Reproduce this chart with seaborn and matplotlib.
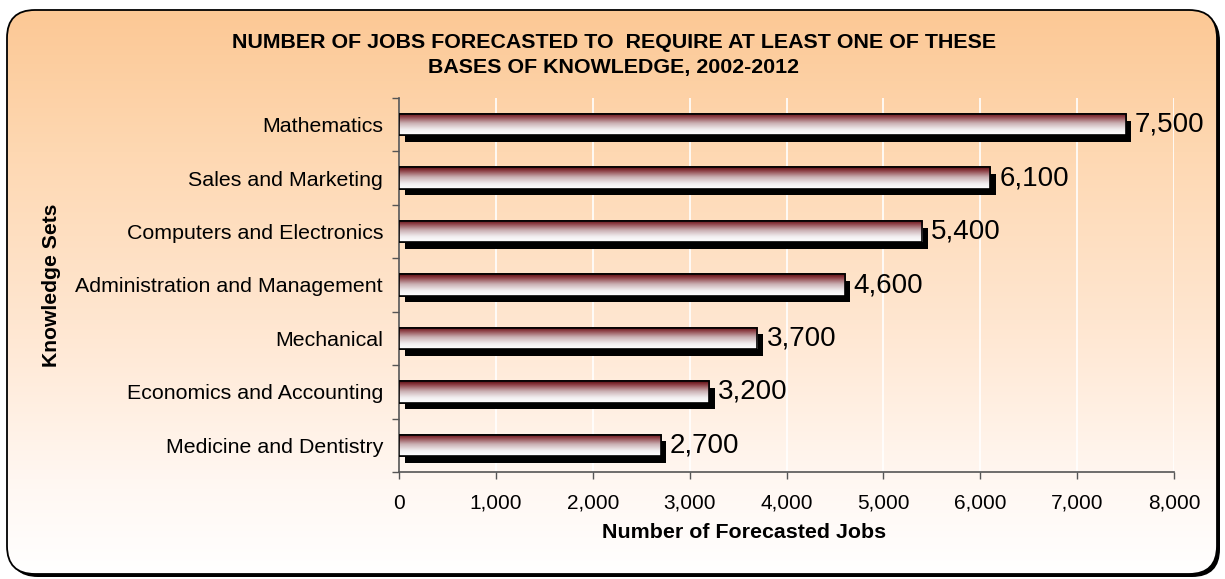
import numpy as np
import pandas as pd
import seaborn as sns
import matplotlib.pyplot as plt
from matplotlib.colors import LinearSegmentedColormap
from matplotlib.patches import FancyBboxPatch
import matplotlib.patheffects as pe

# Data
categories = ["Mathematics", "Sales and Marketing", "Computers and Electronics",
              "Administration and Management", "Mechanical",
              "Economics and Accounting", "Medicine and Dentistry"]
jobs = [7500, 6100, 5400, 4600, 3700, 3200, 2700]
x_ticks = [0, 1000, 2000, 3000, 4000, 5000, 6000, 7000, 8000]

title = "NUMBER OF JOBS FORECASTED TO  REQUIRE AT LEAST ONE OF THESE\nBASES OF KNOWLEDGE, 2002-2012"
x_title = "Number of Forecasted Jobs"
y_title = "Knowledge Sets"

df = pd.DataFrame({"category": categories, "jobs": jobs})

sns.set_theme(style="white")
plt.rcParams["font.family"] = ["Liberation Sans", "DejaVu Sans"]
plt.rcParams["text.color"] = "black"
plt.rcParams["xtick.color"] = "black"
plt.rcParams["ytick.color"] = "black"
plt.rcParams["axes.labelcolor"] = "black"

W, H = 1225, 579
fig = plt.figure(figsize=(W / 100, H / 100), dpi=100)
fig.patch.set_facecolor("white")

# Background panel: peach-to-white vertical gradient inside a rounded frame
bg = fig.add_axes([0, 0, 1, 1], zorder=-10)
bg.set_xlim(0, W)
bg.set_ylim(H, 0)
bg.axis("off")
box = dict(boxstyle="round,pad=0,rounding_size=28")
shadow = FancyBboxPatch((10, 13), 1210, 564, facecolor="black", edgecolor="none",
                        zorder=1, **box)
panel = FancyBboxPatch((7, 10), 1210, 564, facecolor="white", edgecolor="none",
                       zorder=2, **box)
border = FancyBboxPatch((7, 10), 1210, 564, facecolor="none", edgecolor="black",
                        linewidth=1.3, zorder=4, **box)
bg.add_patch(shadow)
bg.add_patch(panel)
bg_cmap = LinearSegmentedColormap.from_list(
    "panel", [(0.0, "#fcc895"), (0.25, "#fed8b2"), (0.55, "#ffe6d0"),
              (0.85, "#fff8f3"), (1.0, "#ffffff")])
grad = np.linspace(0, 1, 256).reshape(-1, 1)
img = bg.imshow(grad, cmap=bg_cmap, aspect="auto", extent=(7, 1217, 574, 10),
                interpolation="bicubic", zorder=3)
img.set_clip_path(panel)
bg.add_patch(border)

# Plot area
ax = fig.add_axes([399 / W, 1 - 472 / H, (1174 - 399) / W, (472 - 98) / H])
ax.set_facecolor("none")

sns.barplot(data=df, x="jobs", y="category", orient="h", ax=ax,
            width=0.4, color="white", edgecolor="black", linewidth=1.2,
            saturation=1)

bar_cmap = LinearSegmentedColormap.from_list(
    "bar", [(0.0, "#5c0d12"), (0.15, "#8a3a40"), (0.45, "#c9aeb1"),
            (0.75, "#f1eef0"), (1.0, "#ffffff")])
bar_grad = np.linspace(0, 1, 128).reshape(-1, 1)

for patch in ax.patches:
    x0, y0 = patch.get_x(), patch.get_y()
    w, h = patch.get_width(), patch.get_height()
    patch.set_path_effects([pe.withSimplePatchShadow(offset=(4.2, -4.8),
                                                     shadow_rgbFace="black",
                                                     alpha=1.0)])
    patch.set_zorder(3)
    gi = ax.imshow(bar_grad, cmap=bar_cmap, aspect="auto",
                   extent=(x0, x0 + w, y0 + h, y0), zorder=3.5,
                   interpolation="bicubic")
    gi.set_clip_path(patch)
    outline = plt.Rectangle((x0, y0), w, h, facecolor="none",
                            edgecolor="black", linewidth=1.2, zorder=4)
    ax.add_patch(outline)

for i, v in enumerate(jobs):
    ax.text(v + 95, i, f"{v:,}", va="center", ha="left", fontsize=20,
            color="black", zorder=5)

ax.set_xlim(0, 8000)
ax.set_ylim(len(categories) - 0.5, -0.5)
ax.set_xticks(x_ticks)
ax.set_xticklabels([f"{t:,}" for t in x_ticks], fontsize=15)
ax.set_yticks(range(len(categories)))
ax.set_yticklabels(categories, fontsize=15.4)
ax.set_yticks(np.arange(-0.5, len(categories)), minor=True)

ax.tick_params(axis="y", which="major", length=0, pad=11.5)
ax.tick_params(axis="y", which="minor", left=True, length=5, width=1, color="#555555")
ax.tick_params(axis="x", which="major", bottom=True, length=5, width=1,
               color="#555555", pad=10.5)

ax.grid(axis="x", color="white", linewidth=1.2)
ax.grid(axis="y", visible=False)
ax.set_axisbelow(True)
for side in ["top", "right"]:
    ax.spines[side].set_visible(False)
for side in ["left", "bottom"]:
    ax.spines[side].set_color("#555555")
    ax.spines[side].set_linewidth(1.2)

ax.set_xlabel(x_title, fontsize=15.4, fontweight="bold")
ax.xaxis.set_label_coords((744 - 399) / (1174 - 399), -(523 - 472) / (472 - 98))
ax.set_ylabel(y_title, fontsize=15.2, fontweight="bold")
ax.yaxis.set_label_coords((61 - 399) / (1174 - 399), 0.5)

fig.text(614 / W, 1 - 55 / H, title, ha="center", va="center",
         fontsize=15.4, fontweight="bold", linespacing=1.45)

fig.savefig("out.png", dpi=100)
